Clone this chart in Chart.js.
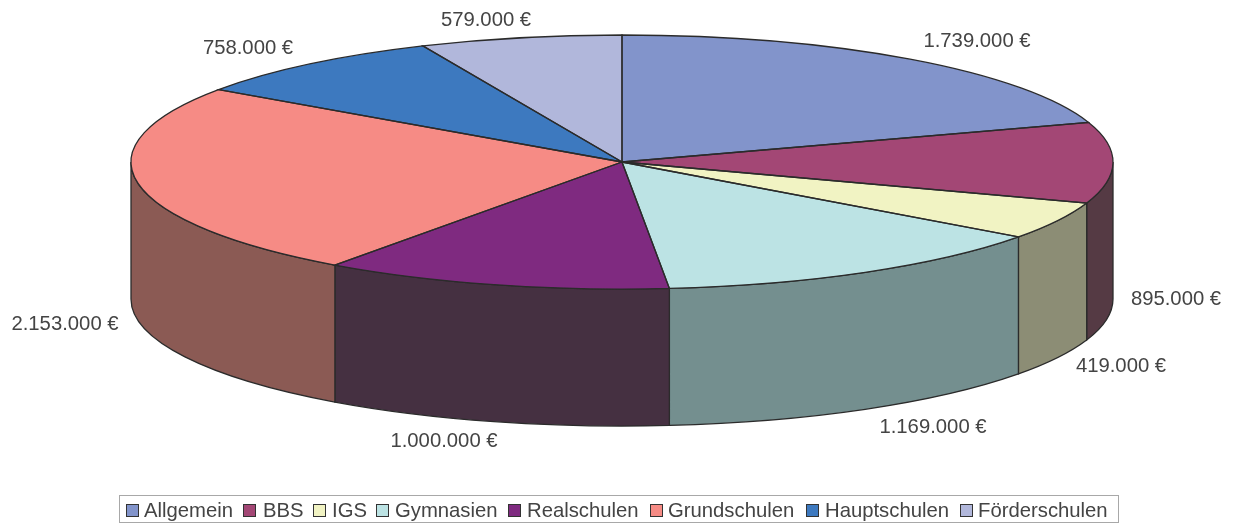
<!DOCTYPE html>
<html lang="de">
<head>
<meta charset="utf-8">
<title>Budget</title>
<script src="https://cdn.jsdelivr.net/npm/chart.js@4/dist/chart.umd.min.js"></script>
<style>
html,body{margin:0;padding:0;background:#fff;overflow:hidden}
#wrap{position:relative;width:1238px;height:524px}
#lgd{position:absolute;left:119px;top:495px;width:1000px;height:28px;box-sizing:border-box;border:1px solid #a8a8a8;
 font:20.3px "Liberation Sans",Arial,sans-serif;color:#444}
#lgd span{position:absolute;top:1px;line-height:26px;white-space:nowrap}
#lgd i{position:absolute;top:8px;width:13px;height:13px;box-sizing:border-box;border:1.5px solid #333}
</style>
</head>
<body>
<div id="wrap">
<canvas id="myChart"></canvas>
<div id="lgd"></div>
</div>
<script>
var categories=["Allgemein","BBS","IGS","Gymnasien","Realschulen","Grundschulen","Hauptschulen","Förderschulen"];
var values=[1739000,895000,419000,1169000,1000000,2153000,758000,579000];
var topColors=["#8294cb","#a34775","#f1f3c3","#bce3e4","#7f2a80","#f68b85","#3d79bf","#b1b7db"];
var wallColors=["#5a6a90","#553a44","#8c8d75","#748f8f","#453041","#8b5a54","#2c5684","#7d829c"];

/*---------------look of the tilted disc----------------*/
var squash=0.2587;
var depth=137;
var edge="#2b2b2b";
var labelSpots=[[977,41],[1176,299],[1121,366],[933,427],[444,441],[65,324],[248,48],[486,20]];

function money(v){
    return v.toLocaleString("de-DE")+" €";
}

/* library draws the slices as a flat circle, this plugin tilts it and adds the side wall */
var tilt={
    id:"tilt",
    beforeDatasetsDraw:function(chart){
        var ctx=chart.ctx;
        var arcs=chart.getDatasetMeta(0).data;
        var cx=arcs[0].x, cy=arcs[0].y;
        arcs.forEach(function(arc,i){
            var a=Math.max(arc.startAngle,0);
            var b=Math.min(arc.endAngle,Math.PI);
            if(b<=a)return;
            var r=arc.outerRadius;
            ctx.beginPath();
            ctx.ellipse(cx,cy,r,r*squash,0,a,b);
            ctx.ellipse(cx,cy+depth,r,r*squash,0,b,a,true);
            ctx.closePath();
            ctx.fillStyle=wallColors[i];
            ctx.fill();
            ctx.lineWidth=1.3;
            ctx.strokeStyle=edge;
            ctx.stroke();
        });
        ctx.save();
        ctx.translate(cx,cy);
        ctx.scale(1,squash);
        ctx.translate(-cx,-cy);
    },
    afterDatasetsDraw:function(chart){
        var ctx=chart.ctx;
        ctx.restore();
        var arcs=chart.getDatasetMeta(0).data;
        arcs.forEach(function(arc,i){
            var r=arc.outerRadius;
            ctx.beginPath();
            ctx.moveTo(arc.x,arc.y);
            ctx.ellipse(arc.x,arc.y,r,r*squash,0,arc.startAngle,arc.endAngle);
            ctx.closePath();
            ctx.lineWidth=1.3;
            ctx.strokeStyle=edge;
            ctx.stroke();
        });
        ctx.font='20.3px "Liberation Sans", Arial, sans-serif';
        ctx.fillStyle="#444";
        ctx.textAlign="center";
        ctx.textBaseline="middle";
        values.forEach(function(v,i){
            ctx.fillText(money(v),labelSpots[i][0],labelSpots[i][1]);
        });
    }
};

var chart=new Chart(document.getElementById("myChart"),{
    type:"pie",
    data:{
        labels:categories,
        datasets:[{
            data:values,
            backgroundColor:topColors,
            borderWidth:0,
            clip:false
        }]
    },
    options:{
        responsive:true,
        maintainAspectRatio:false,
        animation:false,
        radius:491,
        layout:{padding:{left:6,top:0,right:0,bottom:200}},
        plugins:{legend:{display:false},tooltip:{enabled:false}}
    },
    plugins:[tilt]
});

/*---------------legend----------------*/
var swatchX=[6,123,193,256,388,530,686,840];
var textX=[24,143,212,275,407,548,705,858];
var box=document.getElementById("lgd");
categories.forEach(function(name,i){
    var sw=document.createElement("i");
    sw.style.left=swatchX[i]+"px";
    sw.style.background=topColors[i];
    box.appendChild(sw);
    var t=document.createElement("span");
    t.style.left=textX[i]+"px";
    t.textContent=name;
    box.appendChild(t);
});
</script>
</body>
</html>
